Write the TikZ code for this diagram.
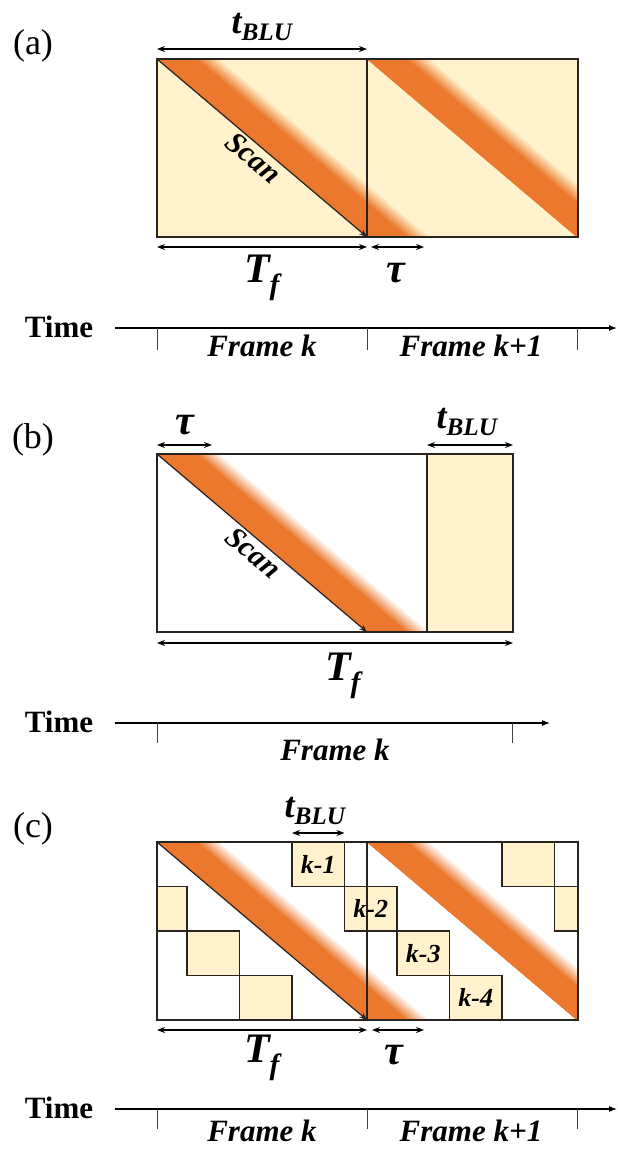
\documentclass[tikz,border=0pt]{standalone}
\usepackage{fontspec}
\setmainfont{Liberation Serif}
\usetikzlibrary{arrows.meta}
\definecolor{cscan}{RGB}{235,120,45}
\definecolor{cblu}{RGB}{255,242,204}
\definecolor{cline}{RGB}{40,35,30}

\begin{document}
\begin{tikzpicture}[x=1pt,y=-1pt,
   framebox/.style={draw=cline,line width=1.4pt},
   blu/.style={fill=cblu,draw=cline,line width=1.4pt},
   scanline/.style={draw=cline,line width=1.2pt,-{Stealth[length=8pt,width=6pt]}},
   dim/.style={line width=1.3pt,{Stealth[length=8pt,width=6pt]}-{Stealth[length=8pt,width=6pt]}},
   axis/.style={line width=1.1pt,-{Latex[length=8pt,width=6pt]}},
   tick/.style={line width=1pt,draw=black!75},
   lab/.style={font=\fontsize{36}{38}\selectfont\bfseries\itshape,inner sep=0pt},
   biglab/.style={font=\fontsize{42}{44}\selectfont\bfseries\itshape,inner sep=0pt},
   panel/.style={font=\fontsize{36}{38}\selectfont,inner sep=0pt},
   timelab/.style={font=\fontsize{31}{33}\selectfont\bfseries,inner sep=0pt},
   framelab/.style={font=\fontsize{31}{33}\selectfont\bfseries\itshape,inner sep=0pt},
   boxlab/.style={font=\fontsize{26}{28}\selectfont\bfseries\itshape,inner sep=0pt},
   scanlab/.style={font=\fontsize{30}{32}\selectfont\bfseries\itshape,inner sep=2pt}]
  \useasboundingbox (0,0) rectangle (618,1149);

  % (a) scan and BLU in the same frame
  \coordinate (aNW) at (157,59);  \coordinate (aN) at (367,59);  \coordinate (aNE) at (578,59);
  \coordinate (aSW) at (157,237); \coordinate (aS) at (367,237); \coordinate (aSE) at (578,237);
  \begin{scope}
    \clip (aNW) rectangle (aSE);
    \fill[cblu] (aNW) rectangle (aSE);
    \foreach \x in {157,367}
      \foreach \w in {62,60,58,56,54,52,50,48,46,44,42,40} {
        \pgfmathsetmacro\p{(64-\w)*100/24}
        \fill[cscan!\p!cblu] (\x,59) -- ++(\w,0) -- ++(210,178) -- ++(-\w,0) -- cycle;
      }
  \end{scope}
  \draw[framebox] (aNW) rectangle (aSE) (aN) -- (aS);
  \draw[scanline] (aNW) -- (aS) node[midway,sloped,below,scanlab] (scanA) {Scan};
  \node[panel] (pa) at (33,46) {(a)};
  \draw[dim] ([yshift=10pt]aNW) -- ([yshift=10pt]aN);
  \node[lab] (tbluA) at (262,27) {t\textsubscript{BLU}};
  \draw[dim] ([yshift=-10pt]aSW) -- ([yshift=-10pt]aS);
  \draw[dim] ([xshift=4pt,yshift=-10pt]aS) -- ([xshift=57pt,yshift=-10pt]aS);
  \node[biglab] (tfA) at (262,278) {T\textsubscript{f}};
  \node[biglab] (tauA) at (396,273) {τ};
  \node[timelab] (timeA) at (59,327) {Time};
  \coordinate (endA) at (617,328);
  \draw[axis] ([xshift=22pt]timeA.east |- endA) -- (endA);
  \foreach \x in {157,367,577} \draw[tick] (\x,328) -- ++(0,22);
  \node[framelab] (fkA) at (262,346) {Frame k};
  \node[framelab] (fk1A) at (471,346) {Frame k+1};

  % (b) scan first, then BLU
  \coordinate (bNW) at (157,454); \coordinate (bNE) at (513,454);
  \coordinate (bSW) at (157,632); \coordinate (bSE) at (513,632);
  \coordinate (bS) at (367,632);  \coordinate (bBLU) at (427,454);
  \begin{scope}
    \clip (bNW) rectangle (bSE);
    \foreach \w in {62,60,58,56,54,52,50,48,46,44,42,40} {
      \pgfmathsetmacro\p{(64-\w)*100/24}
      \fill[cscan!\p!white] (157,454) -- ++(\w,0) -- ++(210,178) -- ++(-\w,0) -- cycle;
    }
  \end{scope}
  \draw[blu] (bBLU) rectangle (bSE);
  \draw[framebox] (bNW) rectangle (bSE);
  \draw[scanline] (bNW) -- (bS) node[midway,sloped,below,scanlab] (scanB) {Scan};
  \node[panel] (pb) at (33,440) {(b)};
  \draw[dim] ([yshift=9pt]bNW) -- ([xshift=55pt,yshift=9pt]bNW);
  \node[biglab] (tauB) at (185,425) {τ};
  \draw[dim] ([yshift=9pt]bBLU) -- ([yshift=9pt]bNE);
  \node[lab] (tbluB) at (467,422) {t\textsubscript{BLU}};
  \draw[dim] ([yshift=-11pt]bSW) -- ([yshift=-11pt]bSE);
  \node[biglab] (tfB) at (343,676) {T\textsubscript{f}};
  \node[timelab] (timeB) at (59,722) {Time};
  \coordinate (endB) at (550,723);
  \draw[axis] ([xshift=22pt]timeB.east |- endB) -- (endB);
  \foreach \x in {157,512} \draw[tick] (\x,723) -- ++(0,20);
  \node[framelab] (fkB) at (335,750) {Frame k};

  % (c) BLU split in four sub-frames
  \coordinate (cNW) at (157,842);  \coordinate (cN) at (367,842);  \coordinate (cNE) at (578,842);
  \coordinate (cSW) at (157,1020); \coordinate (cS) at (367,1020); \coordinate (cSE) at (578,1020);
  \coordinate (cB1) at (292,842);  \coordinate (cB2) at (344.5,842);
  \begin{scope}
    \clip (cNW) rectangle (cSE);
    \foreach \x in {157,367}
      \foreach \w in {62,60,58,56,54,52,50,48,46,44,42,40} {
        \pgfmathsetmacro\p{(64-\w)*100/24}
        \fill[cscan!\p!white] (\x,842) -- ++(\w,0) -- ++(210,178) -- ++(-\w,0) -- cycle;
      }
    \foreach \x/\y in {502/842,134.5/886.5,554.5/886.5,187/931,239.5/975.5}
      \draw[blu] (\x,\y) rectangle ++(52.5,44.5);
  \end{scope}
  \foreach \x/\y in {292/842,344.5/886.5,397/931,449.5/975.5}
    \draw[blu] (\x,\y) rectangle ++(52.5,44.5);
  \draw[framebox] (cNW) rectangle (cSE) (cN) -- (cS);
  \draw[scanline] (cNW) -- (cS);
  \foreach \x/\y/\t [count=\i] in {292/842/k-1,344.5/886.5/k-2,397/931/k-3,449.5/975.5/k-4}
    \node[boxlab] (sub\i) at (\x+26.25,\y+22.25) {\t};
  \node[panel] (pc) at (33,829) {(c)};
  \draw[dim] ([yshift=9pt]cB1) -- ([yshift=9pt]cB2);
  \node[lab] (tbluC) at (315,811) {t\textsubscript{BLU}};
  \draw[dim] ([yshift=-10pt]cSW) -- ([yshift=-10pt]cS);
  \draw[dim] ([xshift=5pt,yshift=-10pt]cS) -- ([xshift=57pt,yshift=-10pt]cS);
  \node[biglab] (tfC) at (262,1058) {T\textsubscript{f}};
  \node[biglab] (tauC) at (394,1055) {τ};
  \node[timelab] (timeC) at (59,1108) {Time};
  \coordinate (endC) at (617,1109);
  \draw[axis] ([xshift=22pt]timeC.east |- endC) -- (endC);
  \foreach \x in {157,367,577} \draw[tick] (\x,1109) -- ++(0,20);
  \node[framelab] (fkC) at (262,1131) {Frame k};
  \node[framelab] (fk1C) at (471,1131) {Frame k+1};
\end{tikzpicture}
\end{document}
